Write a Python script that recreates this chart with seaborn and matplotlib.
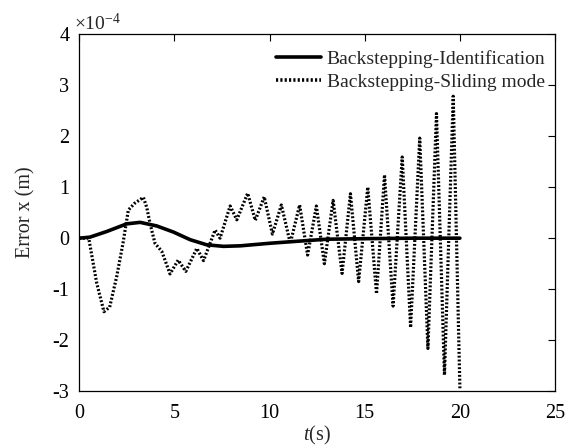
import numpy as np
import pandas as pd
import matplotlib
matplotlib.use("Agg")
import matplotlib.pyplot as plt
import seaborn as sns

# ---- data (values in units of 1e-4 m) ----
t_ident = [0, 0.56, 1.44, 2.49, 3.2, 4.07, 4.95, 5.83, 6.7, 7.58, 8.46, 10.0, 11.1, 13.0, 15.0, 17.5, 20.0]
e_ident = [0, 0.02, 0.13, 0.28, 0.31, 0.24, 0.12, -0.03, -0.13, -0.16, -0.15, -0.10, -0.07, -0.02, -0.01, 0.0, 0.0]

t_slide = [0, 0.5, 0.92, 1.3, 1.6, 1.97, 2.3, 2.58, 2.9, 3.37, 3.55, 3.72, 3.98, 4.34, 4.77, 5.2,
           5.6, 6.18, 6.53, 7.14, 7.4, 7.93, 8.28, 8.85, 9.25, 9.72, 10.15, 10.62, 11.09, 11.58,
           12.0, 12.46, 12.88, 13.34, 13.81, 14.25, 14.68, 15.16, 15.62, 16.04, 16.49, 16.97,
           17.41, 17.89, 18.32, 18.77, 19.19, 19.65, 20.0]
e_slide = [0, 0, -0.88, -1.44, -1.35, -0.75, -0.1, 0.55, 0.68, 0.80, 0.6, 0.29, -0.10, -0.26, -0.70, -0.43,
           -0.65, -0.20, -0.44, 0.16, 0.0, 0.63, 0.36, 0.88, 0.35, 0.81, 0.08, 0.65, -0.10, 0.65,
           -0.33, 0.63, -0.50, 0.74, -0.69, 0.87, -0.85, 1.0, -1.09, 1.24, -1.33, 1.59,
           -1.75, 1.96, -2.16, 2.44, -2.68, 2.78, -2.94]

labels = ["Backstepping-Identification", "Backstepping-Sliding mode"]
x_ticks = [0, 5, 10, 15, 20, 25]
y_ticks = [-3, -2, -1, 0, 1, 2, 3, 4]

sns.set_theme(style="white")
plt.rcParams['font.family'] = ['Liberation Serif', 'DejaVu Serif']
plt.rcParams['mathtext.fontset'] = 'custom'
plt.rcParams['mathtext.rm'] = 'Liberation Serif'
plt.rcParams['mathtext.it'] = 'Liberation Serif:italic'
plt.rcParams['axes.unicode_minus'] = False

fig = plt.figure(figsize=(5.74, 4.46), dpi=100)
ax = fig.add_axes([0.138, 0.1226, 0.829, 0.8012])

sns.lineplot(x=t_ident, y=e_ident, ax=ax, color='black', lw=2.6, label=labels[0], sort=False)
sns.lineplot(x=t_slide, y=e_slide, ax=ax, color='black', lw=2.3, label=labels[1], sort=False)
ax.lines[1].set_linestyle((0, (0.6, 0.6)))

ax.set_xlim(0, 25)
ax.set_ylim(-3, 4)
ax.set_xticks(x_ticks)
ax.set_xticklabels([str(v) for v in x_ticks])
ax.set_yticks(y_ticks)
ax.set_yticklabels([str(v) for v in y_ticks])
ax.tick_params(direction='in', length=5, width=0.8, top=True, right=True,
               labelsize=14.5, colors='black')
ax.tick_params(axis='x', pad=9)
ax.tick_params(axis='y', pad=7)
for s in ax.spines.values():
    s.set_color('black')
    s.set_linewidth(0.9)

ax.set_xlabel(r'$t$(s)', fontsize=14.5, labelpad=1)
ax.set_ylabel('Error x (m)', fontsize=14.5, labelpad=12)
ax.text(-0.012, 1.0, r'$\times$10$^{-4}$', transform=ax.transAxes, fontsize=14,
        ha='left', va='bottom')

leg = ax.legend(loc='upper right', frameon=False, fontsize=14, handlelength=2.3,
                handletextpad=0.3, labelspacing=0.25, borderaxespad=0.25,
                bbox_to_anchor=(1.006, 0.99))
for h in leg.get_lines():
    h.set_linewidth(2.6)

fig.savefig('out.png', dpi=100)
